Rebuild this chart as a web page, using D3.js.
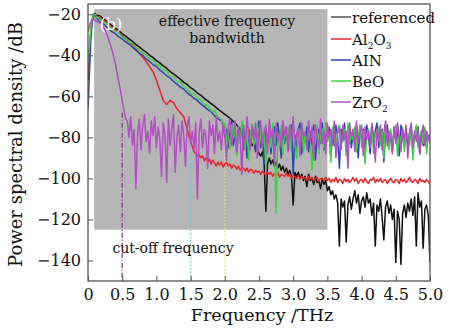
<!DOCTYPE html>
<html>
<head>
<meta charset="utf-8">
<script src="https://cdn.jsdelivr.net/npm/d3@7"></script>
<style>
  body { margin: 0; background: #fff; }
  text { font-family: "DejaVu Serif", "Liberation Serif", serif; }
</style>
</head>
<body>
<div id="chart"></div>
<script>
const freqStep = 0.025;
const xTicks = [0, 0.5, 1.0, 1.5, 2.0, 2.5, 3.0, 3.5, 4.0, 4.5, 5.0];
const yTicks = [-140, -120, -100, -80, -60, -40, -20];
const seriesNames = ["referenced", "Al2O3", "AIN", "BeO", "ZrO2"];
const cutoffFreqs = [0.5, 1.5, 2.0];
const cutoffTops = [-68, -84, -76];
const bandwidth = [0.09, 3.5];
const bandLevels = [-17.5, -125];

// referenced
const refHead = [[0,-52],[0.02,-40],[0.04,-30],[0.06,-23],[0.08,-20],[0.1,-19.5],[0.13,-21],[0.16,-20.5],
  [0.2,-21.5],[0.25,-22.8],[0.3,-24.2],[0.35,-25.5],[0.4,-26.8],[0.45,-28.0],[0.5,-29.5],[0.55,-30.6],
  [0.6,-32.0],[0.65,-33.2],[0.7,-34.8],[0.75,-35.9],[0.8,-37.3],[0.85,-38.4],[0.9,-40.0],[0.95,-41.0],
  [1.0,-42.6],[1.05,-43.7],[1.1,-45.2],[1.15,-46.3],[1.2,-47.9],[1.25,-49.0],[1.3,-50.4],[1.35,-51.6],
  [1.4,-53.2],[1.45,-54.2],[1.5,-55.8],[1.55,-56.9],[1.6,-58.4],[1.65,-59.5],[1.7,-61.0],[1.75,-62.2],
  [1.8,-63.6],[1.85,-64.8],[1.9,-66.2],[1.95,-67.5],[2.0,-68.8],[2.05,-70.0],[2.1,-71.5],[2.15,-73],[2.2,-75]];
const refTailStart = 2.225;
const refTail = [-76,-78,-77,-80,-79,-82,-81,-84,-83,-86,-85,-88,
  -89,-87,-92,-116,-93,-90,-93,-91,-94,-92,-95,-93,-96,-94,-97,-95,-98,-96,-99,-113,
  -97,-99,-97,-100,-98,-101,-99,-104,-98,-101,-100,-103,-99,-102,-101,-105,-100,-103,-101,-106,
  -104,-108,-106,-110,-108,-112,-133,-110,-114,-111,-131,-113,-109,-115,-110,-106,-112,-108,-117,-111,
  -109,-114,-107,-112,-110,-118,-112,-133,-113,-116,-110,-119,-130,-114,-111,-117,-113,-120,-115,-141,
  -116,-120,-142,-117,-113,-119,-112,-116,-110,-118,-109,-133,-107,-114,-111,-134,-115,-113,-118,-141];

// Al2O3
const alHead = [[0,-50],[0.02,-38],[0.04,-29],[0.06,-23],[0.08,-20.5],[0.1,-20],[0.13,-21.5],[0.16,-21],
  [0.2,-22.5],[0.25,-23.5],[0.3,-25],[0.35,-26.5],[0.4,-27.5],[0.45,-28.8],[0.5,-30.5],[0.55,-32],
  [0.6,-33.5],[0.65,-35],[0.7,-37],[0.75,-39],[0.8,-41],[0.85,-43],[0.9,-45.5],[0.95,-48],[1.0,-52],
  [1.05,-57],[1.1,-62],[1.15,-64],[1.2,-62],[1.25,-63],[1.3,-66],[1.35,-68],[1.4,-70],[1.45,-76],
  [1.5,-82],[1.55,-87],[1.6,-89]];
const alTailStart = 1.625;
const alTail = [-88.5,-90,-89,-91.5,-90,-92,-90.5,-93,-91,-92.5,-94,-92,-93.5,-92,-94.5,-93,
  -92,-94,-93,-95,-93.5,-94,-95.5,-94,-96,-94.5,-95,-96.5,-95,-97,-95.5,-96,-97.5,-96,-97,-96.5,
  -98,-96.5,-97.5,-98.5,-97,-98,-97,-99,-97.5,-98.5,-97,-99.5,-98,-98.5,-99,-97.5,-99,-98,-100,-98.5,
  -99,-100,-98.5,-100.5,-99,-100,-99.5,-101,-99,-100.5,-99.5,-101,-100,-99.5,-101.5,-100,-100.5,-101,-99.5,-101,
  -100,-102,-100.5,-101.5,-99.5,-102,-100.5,-101,-102.5,-100,-101.5,-100.5,-102,-101,-99.5,-101.5,-100,-102.5,-101,-100.5,
  -102,-100,-101.5,-102.5,-100.5,-101,-99.5,-102,-100.5,-101.5,-100,-102,-101,-100.5,-102.5,-101,-100,-101.5,-102,-100.5,
  -101,-102.5,-100,-101.5,-100.5,-102,-101,-99.5,-101.5,-102,-100.5,-101,-102.5,-100,-101.5,-101,-102,-100.5,-101.5,-103];

// AIN
const alnHead = [[0,-66],[0.02,-50],[0.04,-33],[0.06,-24],[0.08,-21],[0.1,-20.5],[0.13,-22],[0.16,-23.5],
  [0.2,-24],[0.25,-25.5],[0.3,-27],[0.35,-28.5],[0.4,-29.5],[0.45,-31],[0.5,-32],[0.55,-33.5],[0.6,-34.5],
  [0.65,-36],[0.7,-37.5],[0.75,-39],[0.8,-40],[0.85,-41.8],[0.9,-43],[0.95,-44.5],[1.0,-45.5],[1.05,-47.2],
  [1.1,-48.5],[1.15,-50],[1.2,-51],[1.25,-52.8],[1.3,-54],[1.35,-55.5],[1.4,-56.5],[1.45,-58.3],[1.5,-59.5],
  [1.55,-61],[1.6,-62],[1.65,-63.8],[1.7,-65],[1.75,-66.5],[1.8,-67.5],[1.85,-69.5],[1.9,-71],[1.95,-72]];
const alnTailStart = 1.975;
const alnTail = [-74,-80,-76,-85,-78,-72,-84,-79,-88,-75,
  -81,-73,-86,-78,-90,-76,-83,-74,-80,-87,
  -77,-72,-85,-79,-93,-76,-82,-74,-88,-78,
  -75,-84,-73,-81,-90,-77,-83,-75,-86,-80,
  -74,-98,-79,-85,-76,-73,-88,-78,-82,-75,
  -87,-77,-84,-74,-91,-79,-76,-83,-73,-86,
  -78,-81,-75,-89,-77,-84,-74,-80,-95,-76,
  -82,-73,-87,-79,-75,-85,-78,-83,-74,-90,
  -77,-81,-76,-86,-74,-79,-88,-75,-83,-77,
  -73,-85,-80,-76,-92,-78,-74,-84,-79,-87,
  -75,-82,-77,-89,-74,-80,-85,-76,-83,-78,
  -74,-86,-79,-81,-75,-88,-77,-84,-76,-82,
  -80,-79];

// BeO
const beoHead = [[0,-44],[0.02,-36],[0.04,-27],[0.06,-22],[0.08,-20],[0.1,-20],[0.13,-21.5],[0.16,-21.8],
  [0.2,-23.5],[0.25,-24],[0.3,-26],[0.35,-26.8],[0.4,-28.5],[0.45,-29.2],[0.5,-31],[0.55,-31.8],[0.6,-33.5],
  [0.65,-34.2],[0.7,-36.2],[0.75,-37],[0.8,-39],[0.85,-39.6],[0.9,-41.8],[0.95,-42.3],[1.0,-44.5],[1.05,-45],
  [1.1,-47.2],[1.15,-47.6],[1.2,-50],[1.25,-50.4],[1.3,-52.8],[1.35,-53],[1.4,-55.5],[1.45,-56],[1.5,-58.5],
  [1.55,-58.6],[1.6,-61],[1.65,-61.5],[1.7,-64],[1.75,-64.5],[1.8,-67],[1.85,-67],[1.9,-70],[1.95,-71]];
const beoTailStart = 1.975;
const beoTail = [-76,-73,-82,-78,-86,-74,-80,-77,-89,-75,
  -83,-72,-79,-85,-76,-91,-78,-74,-84,-80,
  -73,-87,-77,-82,-75,-94,-79,-76,-85,-73,
  -81,-117,-78,-84,-74,-88,-77,-80,-75,-86,
  -79,-73,-83,-90,-76,-81,-74,-87,-78,-84,
  -75,-80,-96,-77,-83,-74,-88,-79,-76,-85,
  -73,-82,-78,-92,-75,-80,-86,-77,-74,-84,
  -79,-76,-89,-73,-83,-78,-81,-75,-87,-80,
  -74,-85,-77,-93,-79,-76,-82,-74,-88,-78,
  -80,-75,-84,-77,-90,-73,-81,-86,-76,-83,
  -78,-74,-89,-79,-82,-75,-87,-77,-80,-84,
  -76,-91,-78,-74,-85,-80,-77,-83,-75,-88,
  -79,-82];

// ZrO2
const zrHead = [[0,-28.5],[0.03,-24.5],[0.06,-23],[0.09,-22.5],[0.12,-23.5],[0.16,-24],[0.2,-25],
  [0.25,-27.7],[0.3,-32],[0.35,-37.4],[0.4,-44],[0.45,-53],[0.5,-62],[0.53,-68],[0.55,-71]];
const zrTailStart = 0.575;
const zrTail = [-72,-80,-70,-84,-76,-105,-78,-71,-86,-74,
  -69,-82,-77,-88,-72,-79,-70,-85,-75,-81,
  -99,-73,-78,-102,-71,-84,-76,-69,-97,-80,
  -74,-87,-72,-79,-94,-75,-70,-83,-77,-86,
  -73,-110,-78,-71,-85,-76,-80,-95,-72,-79,
  -74,-88,-70,-82,-77,-86,-73,-79,-91,-75,
  -71,-84,-78,-72,-87,-76,-80,-98,-74,-83,
  -70,-79,-86,-75,-81,-73,-90,-77,-72,-84,
  -78,-74,-88,-71,-80,-76,-93,-73,-82,-77,
  -85,-72,-79,-75,-87,-74,-81,-70,-84,-78,
  -76,-89,-73,-80,-77,-86,-72,-82,-75,-91,
  -74,-79,-85,-71,-83,-77,-88,-73,-80,-76,
  -84,-72,-90,-78,-75,-86,-74,-81,-77,-95,
  -73,-80,-76,-87,-72,-83,-78,-74,-89,-75,
  -81,-77,-85,-73,-79,-92,-76,-82,-74,-86,
  -78,-72,-84,-77,-80,-88,-75,-83,-73,-79,
  -87,-76,-81,-74,-90,-78,-73,-85,-77,-82,
  -75,-88,-79,-74,-84,-77,-80,-83];

function build(head, start, tail) {
  return head.concat(tail.map((v, i) => [start + i * freqStep, v]));
}

const series = [
  { name: seriesNames[0], color: "#111", data: build(refHead, refTailStart, refTail) },
  { name: seriesNames[1], color: "#e8262a", data: build(alHead, alTailStart, alTail) },
  { name: seriesNames[2], color: "#3141b5", data: build(alnHead, alnTailStart, alnTail) },
  { name: seriesNames[3], color: "#3fd23f", data: build(beoHead, beoTailStart, beoTail) },
  { name: seriesNames[4], color: "#b24fc2", data: build(zrHead, zrTailStart, zrTail) }
];

const width = 454, height = 328;
const margin = { top: 4, right: 24, bottom: 47, left: 88 };

const svg = d3.select("#chart").append("svg")
  .attr("width", width)
  .attr("height", height);

const x = d3.scaleLinear().domain([0, 5]).range([margin.left, width - margin.right]);
const y = d3.scaleLinear().domain([-150, -15]).range([height - margin.bottom, margin.top]);

svg.append("defs").append("clipPath").attr("id", "plot")
  .append("rect")
  .attr("x", x(0)).attr("y", y(-15))
  .attr("width", x(5) - x(0)).attr("height", y(-150) - y(-15));

// effective bandwidth area
svg.append("rect")
  .attr("x", x(bandwidth[0]))
  .attr("y", y(bandLevels[0]))
  .attr("width", x(bandwidth[1]) - x(bandwidth[0]))
  .attr("height", y(bandLevels[1]) - y(bandLevels[0]))
  .attr("fill", "#b5b5b5");

// cut-off markers
const cutColors = ["#8c3c8c", "#66c9d9", "#e6e070"];
const cutDash = ["5,2,1,2", "1.5,2", "1.5,2"];
svg.append("g").selectAll("line")
  .data(cutoffFreqs)
  .join("line")
  .attr("x1", d => x(d)).attr("x2", d => x(d))
  .attr("y1", (d, i) => y(cutoffTops[i]))
  .attr("y2", y(-150))
  .attr("stroke", (d, i) => cutColors[i])
  .attr("stroke-width", 1.3)
  .attr("stroke-dasharray", (d, i) => cutDash[i]);

const line = d3.line().x(d => x(d[0])).y(d => y(d[1]));

svg.append("g")
  .attr("clip-path", "url(#plot)")
  .selectAll("path")
  .data(series)
  .join("path")
  .attr("fill", "none")
  .attr("stroke", d => d.color)
  .attr("stroke-width", 1.5)
  .attr("stroke-linejoin", "round")
  .attr("d", d => line(d.data));

// axes
const xAxis = svg.append("g")
  .attr("transform", `translate(0,${y(-150)})`)
  .call(d3.axisBottom(x).tickValues(xTicks).tickSizeInner(-5).tickSizeOuter(0).tickPadding(8)
    .tickFormat(d => d === 0 ? "0" : d3.format(".1f")(d)));
const yAxis = svg.append("g")
  .attr("transform", `translate(${x(0)},0)`)
  .call(d3.axisLeft(y).tickValues(yTicks).tickSizeInner(-5).tickSizeOuter(0).tickPadding(7));

[xAxis, yAxis].forEach(g => {
  g.select(".domain").remove();
  g.selectAll(".tick line").attr("stroke", "#555");
  g.selectAll(".tick text")
    .attr("font-family", "DejaVu Serif")
    .attr("font-size", 16)
    .attr("fill", "#111");
});

svg.append("rect")
  .attr("x", x(0)).attr("y", y(-15))
  .attr("width", x(5) - x(0)).attr("height", y(-150) - y(-15))
  .attr("fill", "none")
  .attr("stroke", "#555")
  .attr("stroke-width", 1.3);

// annotations
svg.append("text").attr("x", 227).attr("y", 26)
  .attr("text-anchor", "middle").attr("font-size", 14).attr("fill", "#111")
  .text("effective frequency");
svg.append("text").attr("x", 227).attr("y", 43)
  .attr("text-anchor", "middle").attr("font-size", 14).attr("fill", "#111")
  .text("bandwidth");
svg.append("text").attr("x", 111).attr("y", 30)
  .attr("text-anchor", "middle").attr("font-size", 16).attr("fill", "#fff")
  .text("(b)");
svg.append("text").attr("x", 173).attr("y", 253)
  .attr("text-anchor", "middle").attr("font-size", 14).attr("fill", "#111")
  .text("cut-off frequency");

// legend
const legendY = [17, 39, 60, 81, 102];
const legend = svg.append("g");
series.forEach((s, i) => {
  legend.append("line")
    .attr("x1", 331).attr("x2", 351)
    .attr("y1", legendY[i]).attr("y2", legendY[i])
    .attr("stroke", i === 0 ? "#555" : s.color)
    .attr("stroke-width", 1.5);
  const t = legend.append("text")
    .attr("x", 352).attr("y", legendY[i] + 5.5)
    .attr("font-size", 15).attr("fill", "#111");
  const parts = s.name.match(/[A-Za-z]+|\d+/g);
  let shifted = false;
  parts.forEach(p => {
    if (/\d/.test(p)) {
      t.append("tspan").attr("font-size", 9).attr("dy", 4).text(p);
      shifted = true;
    } else {
      t.append("tspan").attr("dy", shifted ? -4 : 0).text(p);
      shifted = false;
    }
  });
});

// axis titles
svg.append("text")
  .attr("transform", `translate(22,${(y(-15) + y(-150)) / 2 + 2}) rotate(-90)`)
  .attr("text-anchor", "middle").attr("font-size", 18).attr("fill", "#111")
  .text("Power spectral density /dB");
svg.append("text")
  .attr("x", 262).attr("y", 321)
  .attr("text-anchor", "middle").attr("font-size", 17.5).attr("fill", "#111")
  .text("Frequency /THz");
</script>
</body>
</html>
